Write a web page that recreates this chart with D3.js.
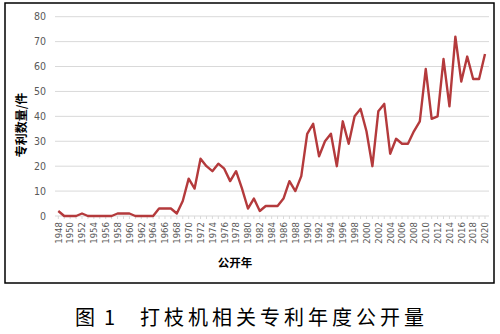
<!DOCTYPE html>
<meta charset="utf-8">
<style>
  body { margin: 0; background: #fff; }
  text { font-family: "Noto Sans CJK SC", "Noto Sans", sans-serif; }
</style>
<script src="https://d3js.org/d3.v7.min.js"></script>
<div id="chart"></div>
<script>
  // yearly published patents
  var years = d3.range(1948, 2021);
  var counts = [2, 0, 0, 0, 1, 0, 0, 0, 0, 0,
                1, 1, 1, 0, 0, 0, 0, 3, 3, 3,
                1, 6, 15, 11, 23, 20, 18, 21, 19, 14,
                18, 11, 3, 7, 2, 4, 4, 4, 7, 14,
                10, 16, 33, 37, 24, 30, 33, 20, 38, 29,
                40, 43, 34, 20, 42, 45, 25, 31, 29, 29,
                34, 38, 59, 39, 40, 63, 44, 72, 54, 64,
                55, 55, 65];
  var yTicks = [0, 10, 20, 30, 40, 50, 60, 70, 80];
  var xTicks = years.filter(function(y) { return y % 2 == 0; });

  var W = 500, H = 334;
  var svg = d3.select("#chart").append("svg")
    .attr("width", W).attr("height", H);

  // frame around the plot
  svg.append("rect")
    .attr("x", 5).attr("y", 3).attr("width", 489).attr("height", 280)
    .attr("fill", "none").attr("stroke", "#000").attr("stroke-width", 1.5);

  var x = d3.scalePoint().domain(years).range([58.3, 485]);
  var y = d3.scaleLinear().domain([0, 80]).range([216, 16.7]);

  // gridlines
  svg.append("g").selectAll("line")
    .data(yTicks)
    .enter().append("line")
      .attr("x1", 55).attr("x2", 489)
      .attr("y1", function(d) { return y(d); })
      .attr("y2", function(d) { return y(d); })
      .attr("stroke", "#d9d9d9").attr("stroke-width", 1);

  // y labels
  svg.append("g").selectAll("text")
    .data(yTicks)
    .enter().append("text")
      .attr("x", 46).attr("y", function(d) { return y(d); })
      .attr("dy", "0.35em")
      .attr("text-anchor", "end")
      .style("font-size", "10.5px").style("fill", "#595959")
      .style("font-family", "'Liberation Sans Narrow', 'DejaVu Sans Condensed', sans-serif")
      .text(function(d) { return d; });

  // small ticks under the axis
  svg.append("g").selectAll("line")
    .data(years)
    .enter().append("line")
      .attr("x1", function(d) { return x(d); })
      .attr("x2", function(d) { return x(d); })
      .attr("y1", 216).attr("y2", 219)
      .attr("stroke", "#d9d9d9");

  // x labels, rotated
  svg.append("g").selectAll("text")
    .data(xTicks)
    .enter().append("text")
      .attr("transform", function(d) { return "translate(" + x(d) + ",222) rotate(-90)"; })
      .attr("dy", "0.35em")
      .attr("text-anchor", "end")
      .style("font-size", "9.5px").style("fill", "#595959")
      .style("font-family", "'Liberation Sans Narrow', 'DejaVu Sans Condensed', sans-serif")
      .text(function(d) { return d; });

  // the line
  var line = d3.line()
    .x(function(d, i) { return x(years[i]); })
    .y(function(d) { return y(d); });

  svg.append("path")
    .datum(counts)
    .attr("d", line)
    .attr("fill", "none")
    .attr("stroke", "#b43a3c")
    .attr("stroke-width", 2.4)
    .attr("stroke-linejoin", "round");

  // axis titles
  svg.append("text")
    .attr("transform", "translate(26,125) rotate(-90)")
    .attr("text-anchor", "middle")
    .style("font-size", "12px").style("font-weight", "bold")
    .text("专利数量/件");

  svg.append("text")
    .attr("x", 235).attr("y", 267)
    .attr("text-anchor", "middle")
    .style("font-size", "11.5px").style("font-weight", "bold")
    .text("公开年");

  // caption
  svg.append("text")
    .attr("x", 75).attr("y", 325)
    .style("font-size", "20px")
    .text("图");
  svg.append("text")
    .attr("x", 104).attr("y", 325)
    .style("font-size", "20px")
    .text("1");

  svg.append("text")
    .attr("x", 140).attr("y", 325)
    .style("font-size", "20px")
    .style("letter-spacing", "4px")
    .text("打枝机相关专利年度公开量");
</script>
